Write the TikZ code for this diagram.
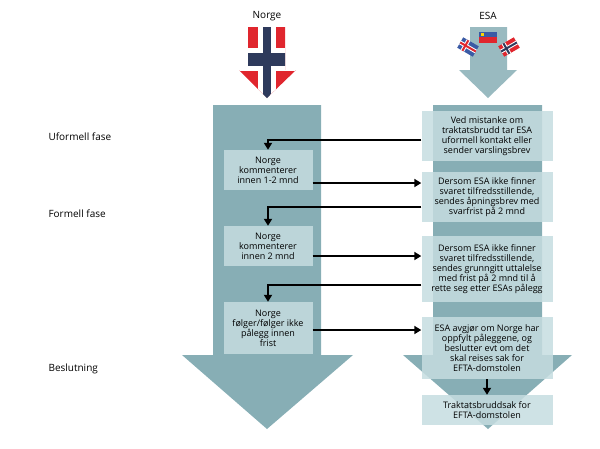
\documentclass[tikz,border=0pt]{standalone}
\usepackage{fontspec}
\setmainfont{Open Sans}
\usetikzlibrary{arrows.meta}
\definecolor{arr}{HTML}{87AEB5}
\definecolor{boxc}{HTML}{C6DDE0}
\definecolor{nred}{HTML}{E0262E}
\definecolor{nblue}{HTML}{2E3A5C}
\definecolor{iblue}{HTML}{3B5BA5}
\begin{document}
\begin{tikzpicture}[x=1pt,y=-1pt,
  box/.style={fill=boxc,fill opacity=0.85,text opacity=1,align=center,inner sep=1pt,font=\fontsize{9}{10}\selectfont},
  lab/.style={font=\fontsize{10}{12}\selectfont,anchor=west},
  con/.style={-{Triangle[length=7pt,width=8pt]},line width=1.8pt,black}]
\useasboundingbox (0,0) rectangle (600,448);
% big arrows
\fill[arr] (213,105) -- (321,105) -- (321,355) -- (353,355) -- (267,429) -- (182,355) -- (213,355) -- cycle;
\fill[arr] (433,105) -- (542,105) -- (542,355) -- (572,355) -- (488,429) -- (403,355) -- (433,355) -- cycle;
% Norway arrow
\begin{scope}
\clip (248,27) -- (285,27) -- (285,70) -- (296,70) -- (267,98) -- (239,70) -- (248,70) -- cycle;
\fill[nred] (230,20) rectangle (300,100);
\fill[white] (258,20) rectangle (276,100);
\fill[white] (230,48) rectangle (300,71);
\fill[nblue] (263,20) rectangle (271,100);
\fill[nblue] (230,53) rectangle (300,66);
\end{scope}
% ESA arrow
\fill[arr!85] (470,27) -- (507,27) -- (507,70) -- (517,70) -- (488,98) -- (459,70) -- (470,70) -- cycle;
\fill[iblue] (479,32) rectangle (497,37);
\fill[nred] (479,37) rectangle (497,43);
\fill[yellow!70!orange] (481,33) rectangle (484,35.5);
\begin{scope}[shift={(468,47)},rotate=-30]
\fill[iblue] (-9,-6) rectangle (9,6);
\fill[white] (-5,-6) rectangle (-1,6); \fill[white] (-9,-2) rectangle (9,2);
\fill[nred] (-4,-6) rectangle (-2,6); \fill[nred] (-9,-1) rectangle (9,1);
\end{scope}
\begin{scope}[shift={(509,47)},rotate=30]
\fill[nred] (-9,-6) rectangle (9,6);
\fill[white] (-5,-6) rectangle (-1,6); \fill[white] (-9,-2) rectangle (9,2);
\fill[nblue] (-4,-6) rectangle (-2,6); \fill[nblue] (-9,-1) rectangle (9,1);
\end{scope}
% titles
\node[font=\fontsize{10}{12}\selectfont] (tn) at (267,16) {Norge};
\node[font=\fontsize{10}{12}\selectfont] (te) at (488,16) {ESA};
\node[lab] (l1) at (45,137) {Uformell fase};
\node[lab] (l2) at (45,214) {Formell fase};
\node[lab] (l3) at (45,369) {Beslutning};
% right boxes
\node[box,minimum width=131pt,minimum height=50pt] (r1) at (487,136) {Ved mistanke om\\traktatsbrudd tar ESA\\uformell kontakt eller\\sender varslingsbrev};
\node[box,minimum width=131pt,minimum height=50pt] (r2) at (487,197) {Dersom ESA ikke finner\\svaret tilfredsstillende,\\sendes åpningsbrev med\\svarfrist på 2 mnd};
\node[box,minimum width=131pt,minimum height=66pt] (r3) at (487,269) {Dersom ESA ikke finner\\svaret tilfredsstillende,\\sendes grunngitt uttalelse\\med frist på 2 mnd til å\\rette seg etter ESAs pålegg};
\node[box,minimum width=131pt,minimum height=62pt] (r4) at (487,348) {ESA avgjør om Norge har\\oppfylt påleggene, og\\beslutter evt om det\\skal reises sak for\\EFTA-domstolen};
\node[box,minimum width=131pt,minimum height=30pt] (r5) at (487,410) {Traktatsbruddsak for\\EFTA-domstolen};
% left boxes
\node[box,minimum width=89pt,minimum height=40pt] (n1) at (268,170) {Norge\\kommenterer\\innen 1-2 mnd};
\node[box,minimum width=89pt,minimum height=40pt] (n2) at (268,246) {Norge\\kommenterer\\innen 2 mnd};
\node[box,minimum width=89pt,minimum height=52pt] (n3) at (268,328) {Norge\\følger/følger ikke\\pålegg innen\\frist};
% connectors
\draw[con] (r1.west|-0,140) -| (n1.north);
\draw[con] (n1.east|-0,183) -- (r2.west|-0,183);
\draw[con] (r2.west|-0,207) -| (n2.north);
\draw[con] (n2.east|-0,256) -- (r3.west|-0,256);
\draw[con] (r3.west|-0,285) -| (n3.north);
\draw[con] (n3.east|-0,330) -- (r4.west|-0,330);
\draw[con] (r4.south) -- (r5.north);
\end{tikzpicture}
\end{document}
